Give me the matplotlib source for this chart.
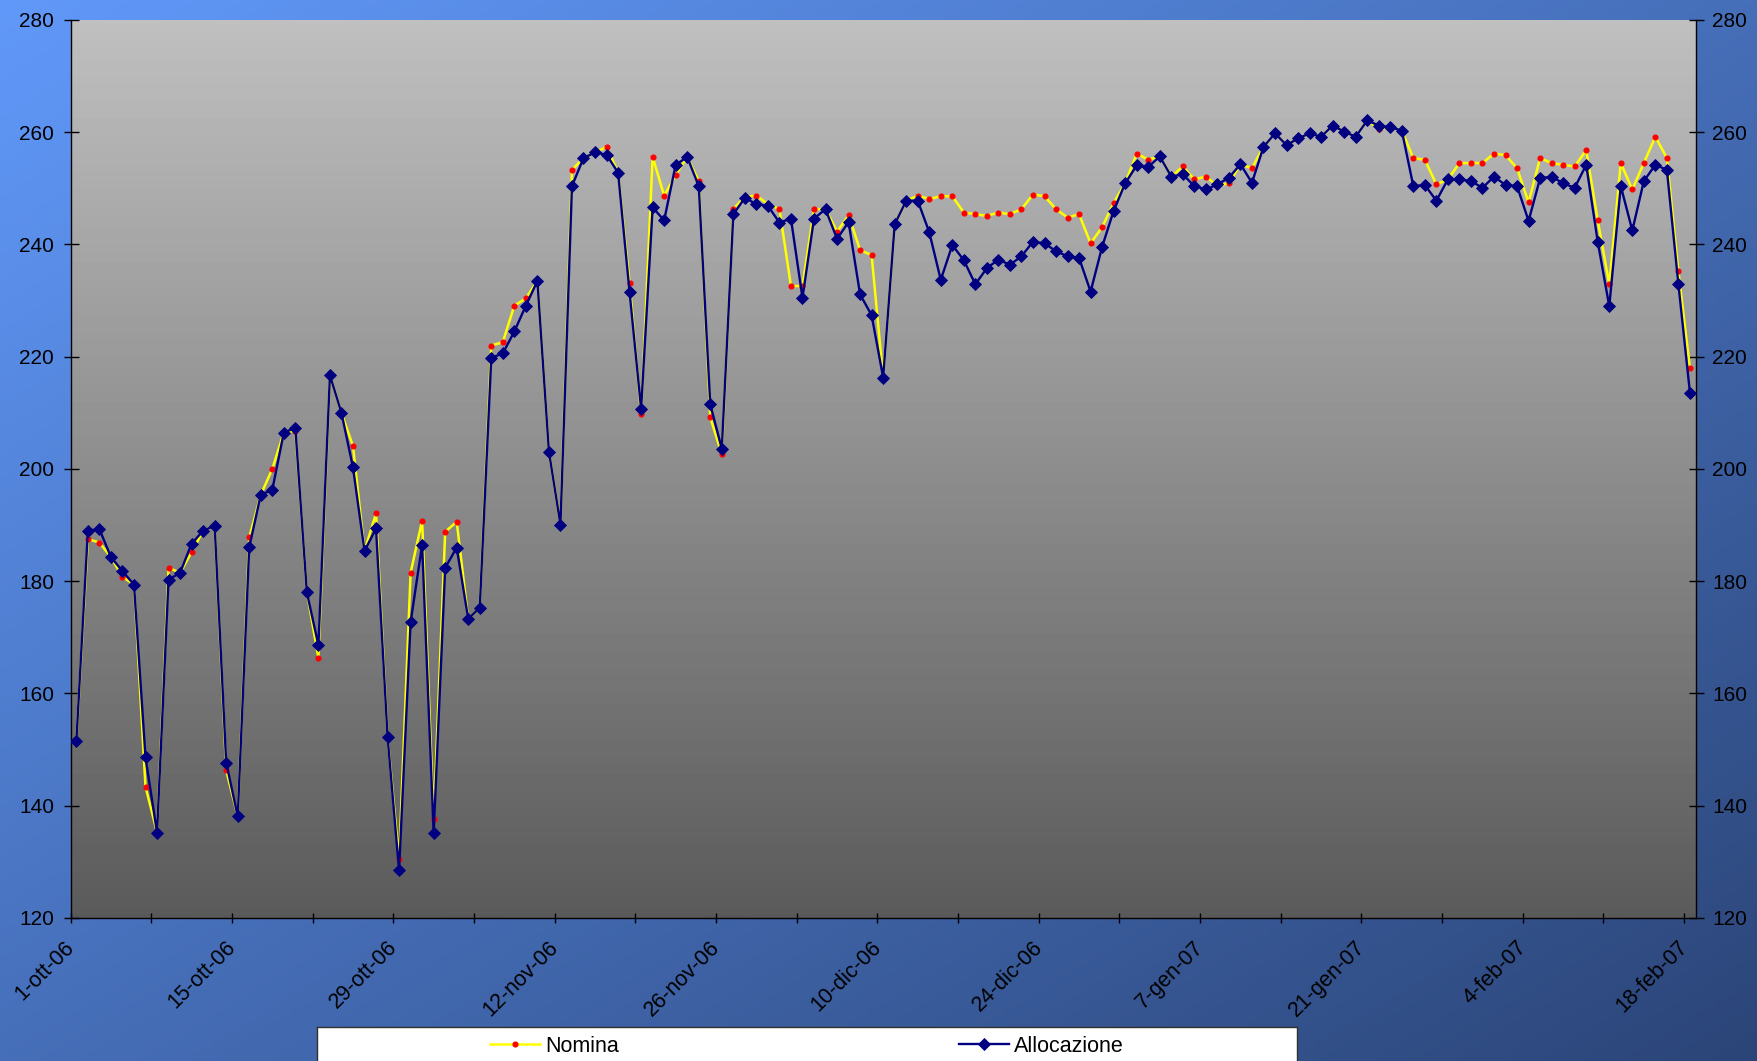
import numpy as np
import pandas as pd
import matplotlib
matplotlib.use('Agg')
import matplotlib.pyplot as plt
import matplotlib.ticker as ticker
import matplotlib.transforms as mtransforms

plt.rcParams['font.family'] = ['Liberation Sans', 'DejaVu Sans']
plt.rcParams['font.size'] = 15

# Serie giornaliere dal 1-ott-06 al 18-feb-07
inizio = '2006-10-01'
mesi = ['gen', 'feb', 'mar', 'apr', 'mag', 'giu',
        'lug', 'ago', 'set', 'ott', 'nov', 'dic']

nomina = [
    151.5, 187.5, 186.9, 184.3, 180.8, 179.4, 143.4, 135.2, 182.4, 181.5,
    185.2, 189.0, 189.9, 146.3, 138.1, 187.8, 195.4, 200.0, 206.5, 206.8,
    178.0, 166.4, 216.7, 210.0, 204.1, 185.4, 192.1, 152.3, 130.5, 181.5,
    190.8, 137.7, 188.8, 190.6, 173.3, 175.3, 222.0, 222.6, 229.1, 230.4,
    233.5, 203.1, 190.1, 253.3, 255.4, 256.4, 257.4, 252.8, 233.2, 209.8,
    255.6, 248.7, 252.4, 255.6, 251.3, 209.2, 202.6, 246.3, 248.5, 248.7,
    247.2, 246.3, 232.6, 232.6, 246.3, 246.3, 242.3, 245.2, 239.0, 238.1,
    216.3, 243.6, 247.8, 248.7, 248.1, 248.6, 248.6, 245.7, 245.4, 245.1,
    245.7, 245.4, 246.3, 248.9, 248.6, 246.3, 244.8, 245.4, 240.2, 243.1,
    247.4, 250.9, 256.2, 255.1, 255.7, 252.1, 253.9, 251.6, 252.1, 250.5,
    250.9, 254.3, 253.6, 257.4, 259.8, 257.7, 258.9, 259.8, 259.2, 261.2,
    260.1, 259.2, 262.1, 260.6, 260.9, 260.3, 255.4, 255.1, 250.7, 251.6,
    254.5, 254.5, 254.5, 256.2, 255.9, 253.6, 247.5, 255.4, 254.5, 254.2,
    253.9, 256.8, 244.3, 232.9, 254.5, 249.8, 254.5, 259.2, 255.4, 235.2,
    218.0,
]

allocazione = [
    151.5, 189.0, 189.3, 184.3, 181.8, 179.4, 148.6, 135.2, 180.3, 181.5,
    186.7, 189.0, 189.9, 147.7, 138.1, 186.1, 195.4, 196.3, 206.5, 207.3,
    178.0, 168.6, 216.7, 210.0, 200.3, 185.4, 189.4, 152.3, 128.5, 172.7,
    186.5, 135.1, 182.4, 186.0, 173.3, 175.3, 219.8, 220.6, 224.5, 229.1,
    233.5, 203.1, 190.1, 250.4, 255.4, 256.4, 256.0, 252.8, 231.5, 210.7,
    246.6, 244.3, 254.2, 255.6, 250.4, 211.5, 203.6, 245.4, 248.3, 247.2,
    246.9, 243.9, 244.6, 230.5, 244.6, 246.3, 241.0, 244.0, 231.1, 227.4,
    216.3, 243.6, 247.8, 247.8, 242.2, 233.7, 239.9, 237.2, 232.9, 235.8,
    237.3, 236.4, 237.9, 240.5, 240.2, 238.8, 237.9, 237.6, 231.6, 239.6,
    246.0, 250.9, 254.1, 253.8, 255.7, 252.1, 252.5, 250.4, 249.8, 250.7,
    251.9, 254.3, 251.0, 257.4, 259.8, 257.7, 258.9, 259.8, 259.2, 261.2,
    260.1, 259.2, 262.1, 261.2, 260.9, 260.3, 250.4, 250.6, 247.8, 251.6,
    251.6, 251.3, 250.1, 252.1, 250.6, 250.4, 244.2, 251.8, 252.1, 250.9,
    250.1, 254.2, 240.5, 229.0, 250.4, 242.5, 251.3, 254.2, 253.3, 232.9,
    213.6,
]

date = pd.date_range(inizio, periods=len(allocazione), freq='D')
giorni = np.arange(len(date)) + 0.5  # ogni punto al centro della sua giornata


def etichetta_data(v, _):
    d = pd.Timestamp(inizio) + pd.Timedelta(days=int(round(v)))
    return f"{d.day}-{mesi[d.month - 1]}-{d.strftime('%y')}"


W, H = 1758, 1061
fig = plt.figure(figsize=(W / 100, H / 100), dpi=100)

# sfondo blu sfumato in diagonale
sfondo = fig.add_axes([0, 0, 1, 1], zorder=-10)
gx, gy = np.meshgrid(np.linspace(0, 1, 400), np.linspace(0, 1, 240))
t = (gx + gy) / 2
chiaro = np.array([0.38, 0.60, 0.98])
scuro = np.array([0.17, 0.27, 0.47])
sfondo.imshow(chiaro + t[..., None] * (scuro - chiaro), aspect='auto', extent=[0, 1, 0, 1])
sfondo.axis('off')

x_fine = len(date)
ax = fig.add_axes([70.6 / W, 1 - 918 / H, (1695.7 - 70.6) / W, (918 - 20) / H])

# area del grafico: grigio sfumato dall'alto verso il basso
ax.imshow(np.linspace(0.75, 0.355, 256)[:, None], cmap='gray', vmin=0, vmax=1,
          aspect='auto', extent=[0, x_fine, 120, 280], zorder=0)

ax.plot(giorni, nomina, color='#FFFF00', lw=1.8, marker='o', ms=3.4,
        mfc='red', mec='red', label='Nomina', zorder=3)
ax.plot(giorni, allocazione, color='#000080', lw=1.7, marker='D', ms=6.5,
        mfc='#000080', mec='#000080', mew=0.6, label='Allocazione', zorder=4)

ax.set_xlim(0, x_fine)
ax.set_ylim(120, 280)

ax.set_xticks(np.arange(0, x_fine, 14))
ax.set_xticks(np.arange(0, x_fine, 7), minor=True)
ax.xaxis.set_major_formatter(ticker.FuncFormatter(etichetta_data))
ax.set_yticks(np.arange(120, 281, 20))

ax.tick_params(axis='x', which='both', direction='inout', length=7.2, width=1,
               bottom=True, top=False, pad=10)
ax.tick_params(axis='y', which='major', direction='inout', length=10.8, width=1,
               left=True, right=True, labelleft=True, labelright=True, pad=6.5)

sposta = mtransforms.ScaledTranslation(-5 / 72, 0, fig.dpi_scale_trans)
for lab in ax.get_xticklabels():
    lab.set_rotation(45)
    lab.set_ha('right')
    lab.set_va('top')
    lab.set_rotation_mode('anchor')
    lab.set_fontsize(15.5)
    lab.set_transform(lab.get_transform() + sposta)

ax.spines['top'].set_visible(False)
for lato in ['left', 'right', 'bottom']:
    ax.spines[lato].set_color('black')
    ax.spines[lato].set_linewidth(1)

# riquadro bianco della legenda, tagliato dal bordo inferiore
lax = fig.add_axes([317 / W, 1 - 1065 / H, 980 / W, 38 / H])
lax.set_facecolor('white')
lax.set_xticks([])
lax.set_yticks([])
for s in lax.spines.values():
    s.set_color('#303030')
    s.set_linewidth(1)
maniglie, etichette = ax.get_legend_handles_labels()
lax.legend(maniglie, etichette, loc='center', ncol=2, frameon=False,
           handlelength=2.3, handletextpad=0.25, columnspacing=15.8,
           fontsize=15.5, borderpad=0, borderaxespad=0)

fig.savefig('out.png', dpi=100)
